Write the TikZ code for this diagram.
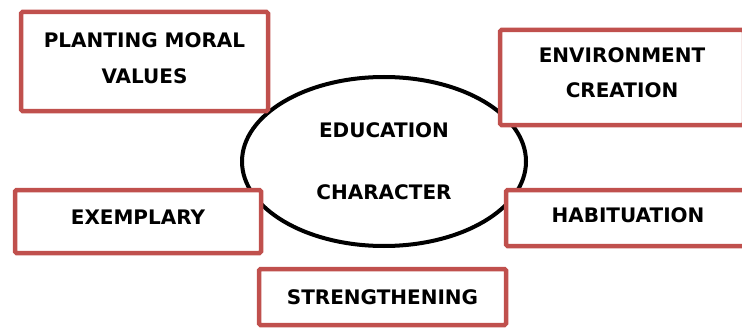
\documentclass[tikz,border=0pt]{standalone}
\usepackage{fontspec}
\setmainfont{DejaVu Sans}
\usetikzlibrary{shapes.geometric}
\definecolor{boxred}{RGB}{192,80,77}
\tikzset{
  boxfont/.style={font=\fontsize{20}{24}\selectfont\bfseries},
  redbox/.style={draw=boxred, line width=4.5pt, fill=white, rounded corners=1.5pt,
    inner sep=0pt},
  boxtext/.style={label={[boxfont, align=center, yshift=#1]center:}},
  centre/.style={draw=black, line width=4pt, ellipse, inner sep=0pt, align=center, boxfont}
}
\newcommand{\boxlabel}[2]{label={[boxfont, align=center, yshift=#1]center:#2}}
\begin{document}
\begin{tikzpicture}[x=1pt,y=-1pt]
\useasboundingbox (0,0) rectangle (742,329);
\node[centre, minimum width=284pt, minimum height=169pt] (edu) at (384,161.5) {EDUCATION\\[38pt]CHARACTER};
\node[redbox, minimum width=247pt, minimum height=99pt,
  label={[boxfont, align=center, yshift=3pt]center:PLANTING MORAL\\[12pt]VALUES}] (plant) at (144.5,61.5) {};
\node[redbox, minimum width=244pt, minimum height=95pt,
  label={[boxfont, align=center, yshift=5pt]center:ENVIRONMENT\\[11pt]CREATION}] (env) at (622,77.5) {};
\node[redbox, minimum width=246pt, minimum height=63pt,
  label={[boxfont, yshift=4pt]center:EXEMPLARY}] (exem) at (138,221.5) {};
\node[redbox, minimum width=244pt, minimum height=56pt,
  label={[boxfont, yshift=3pt]center:HABITUATION}] (habit) at (628,218) {};
\node[redbox, minimum width=247pt, minimum height=56pt,
  label={[boxfont]center:STRENGTHENING}] (streng) at (382.5,297) {};
\end{tikzpicture}
\end{document}
